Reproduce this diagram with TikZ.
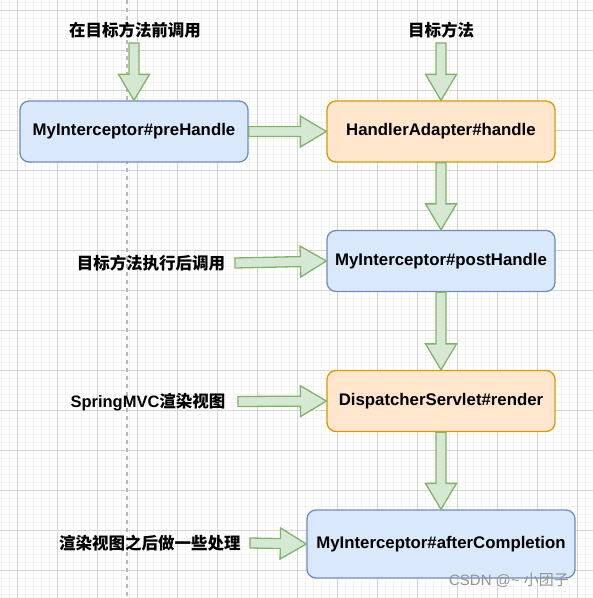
\documentclass[tikz,border=0pt]{standalone}
\usepackage{fontspec}
\setmainfont{Liberation Sans}
\newfontfamily\cjk{Noto Sans CJK SC}
\usetikzlibrary{calc}
\definecolor{mvcblue}{HTML}{DAE8FC}
\definecolor{mvcblueline}{HTML}{6C8EBF}
\definecolor{mvcorange}{HTML}{FFE6CC}
\definecolor{mvcorangeline}{HTML}{D79B00}
\definecolor{flowfill}{HTML}{D5E8D4}
\definecolor{flowline}{HTML}{82B366}
\definecolor{gridmajor}{HTML}{D4D4D4}
\definecolor{gridminor}{HTML}{F2F2F2}
\tikzset{
  box/.style={rectangle, rounded corners=9pt, line width=1.3pt, align=center, inner sep=0pt,
              minimum width=228pt, minimum height=61pt, font=\fontsize{16.8}{19}\selectfont\bfseries},
  hook/.style={box, draw=mvcblueline, fill=mvcblue},
  core/.style={box, draw=mvcorangeline, fill=mvcorange},
  note/.style={inner sep=0pt, font=\fontsize{16.5}{19}\selectfont\bfseries},
  flow/.style={draw=flowline, fill=flowfill, line width=1.3pt},
}
\newcommand{\flowarrow}[2]{%
  \draw[flow] let \p1=(#1), \p2=(#2),
    \n1={atan2(\y2-\y1,\x2-\x1)}, \n2={veclen(\x2-\x1,\y2-\y1)} in
    {[shift={(\p1)}, rotate=\n1]
     (0,-5) -- (\n2-26,-5) -- (\n2-26,-15.5) -- (\n2,0)
     -- (\n2-26,15.5) -- (\n2-26,5) -- (0,5) -- cycle};}

\begin{document}
\begin{tikzpicture}[x=1pt, y=-1pt]
  \fill[white] (0,0) rectangle (593,598);
  \useasboundingbox (0,0) rectangle (593,598);
  \foreach \g in {1,9,...,593} \draw[gridminor, line width=0.8pt] (\g,0) -- (\g,598);
  \foreach \g in {2,10,...,598} \draw[gridminor, line width=0.8pt] (0,\g) -- (593,\g);
  \foreach \g in {17,57,...,593} \draw[gridmajor, line width=0.8pt] (\g,0) -- (\g,598);
  \foreach \g in {10,50,...,598} \draw[gridmajor, line width=0.8pt] (0,\g) -- (593,\g);
  \draw[gray!55, line width=1.3pt, dash pattern=on 4pt off 4pt] (127,0) -- (127,598);

  \node[note] (prelabel) at (135,30) {\cjk 在目标方法前调用};
  \node[note] (targetlabel) at (441,30) {\cjk 目标方法};
  \node[note] (postlabel) at (151,263) {\cjk 目标方法执行后调用};
  \node[note] (renderlabel) at (148,402) {SpringMVC{\cjk 渲染视图}};
  \node[note] (afterlabel) at (150,543) {\cjk 渲染视图之后做一些处理};

  \node[hook] (pre) at (134,131.5) {MyInterceptor\#preHandle};
  \node[core] (handle) at (441,131.5) {HandlerAdapter\#handle};
  \node[hook] (post) at (441,261) {MyInterceptor\#postHandle};
  \node[core] (render) at (441,401) {DispatcherServlet\#render};
  \node[hook, minimum width=268pt, minimum height=68pt] (after) at (441,544) {MyInterceptor\#afterCompletion};

  \coordinate (prein) at (134,43);
  \coordinate (targetin) at (441,43);
  \coordinate (postin) at (235,263);
  \coordinate (renderin) at (238,401.5);
  \coordinate (afterin) at (250,543);

  \flowarrow{prein}{pre.north}
  \flowarrow{targetin}{handle.north}
  \flowarrow{pre.east}{handle.west}
  \flowarrow{handle.south}{post.north}
  \flowarrow{postin}{post.west}
  \flowarrow{post.south}{render.north}
  \flowarrow{renderin}{render.west}
  \flowarrow{render.south}{after.north}
  \flowarrow{afterin}{after.west}

  \node[text=gray!85, font=\fontsize{15}{17}\selectfont] (mark) at (509,580) {CSDN @\textasciitilde\ {\cjk 小团子}};
\end{tikzpicture}
\end{document}
